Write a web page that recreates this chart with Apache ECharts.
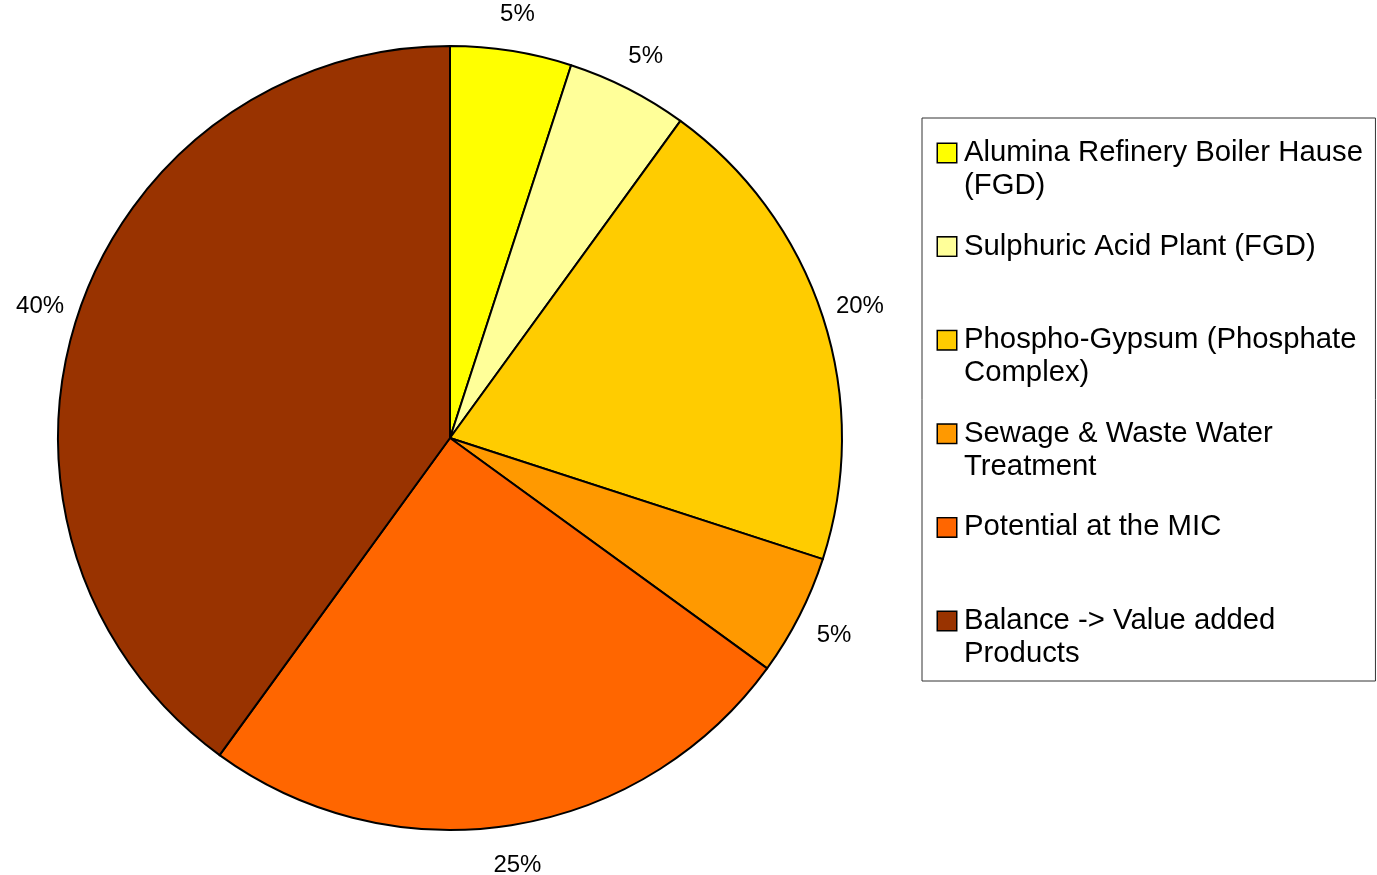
<!DOCTYPE html>
<html><head><meta charset="utf-8">
<script src="https://cdn.jsdelivr.net/npm/echarts/dist/echarts.min.js"></script>
<style>html,body{margin:0;padding:0;background:#fff}#c{width:1377px;height:875px}</style>
</head><body><div id="c"></div>
<script>
const categories = ['Alumina Refinery Boiler Hause (FGD)', 'Sulphuric Acid Plant (FGD)', 'Phospho-Gypsum (Phosphate Complex)', 'Sewage & Waste Water Treatment', 'Potential at the MIC', 'Balance -> Value added Products'];
const values = [5, 5, 20, 5, 25, 40];
const colors = ['#FFFF00', '#FFFF99', '#FFCC00', '#FF9900', '#FF6600', '#993300'];
const legendLines = [['Alumina Refinery Boiler Hause', '(FGD)'], ['Sulphuric Acid Plant (FGD)', ''], ['Phospho-Gypsum (Phosphate', 'Complex)'], ['Sewage & Waste Water', 'Treatment'], ['Potential at the MIC', ''], ['Balance -> Value added', 'Products']];

const FONT = '"Liberation Sans", Arial, sans-serif';
const rich = {
  t: { fontSize: 29.3, lineHeight: 33, color: '#000', fontFamily: FONT },
  g: { width: 8, lineHeight: 33 },
  s: { width: 26, lineHeight: 33 }
};
colors.forEach((c, i) => {
  rich['b' + i] = { width: 18, height: 18, lineHeight: 33, backgroundColor: c, borderColor: '#000', borderWidth: 1.5 };
});

const chart = echarts.init(document.getElementById('c'), null, { renderer: 'canvas' });
chart.setOption({
  animation: false,
  backgroundColor: '#fff',
  legend: {
    orient: 'vertical', left: 922, top: 118,
    icon: 'none', itemWidth: 0, itemHeight: 0, itemGap: 27.6,
    padding: [18.5, 12.5, 10.5, 11],
    borderColor: '#333', borderWidth: 1, backgroundColor: '#fff',
    selectedMode: false,
    data: categories,
    formatter: name => {
      const i = categories.indexOf(name);
      const a = legendLines[i][0], b = legendLines[i][1];
      return '{b' + i + '|}{g|}{t|' + a + '}\n{s|}' + (b ? '{t|' + b + '}' : '');
    },
    textStyle: { fontSize: 29.3, lineHeight: 33, color: '#000', fontFamily: FONT, rich: rich }
  },
  series: [
    {
      type: 'pie', center: [450, 438], radius: 392, startAngle: 90, clockwise: true,
      silent: true, emphasis: { disabled: true },
      data: categories.map((n, i) => ({ name: n, value: values[i], itemStyle: { color: colors[i] } })),
      itemStyle: { borderColor: '#000', borderWidth: 2 },
      label: { show: false }, labelLine: { show: false }
    },
    {
      type: 'pie', center: [450, 440], radius: [392, 464], startAngle: 90, clockwise: true,
      silent: true, emphasis: { disabled: true },
      data: categories.map((n, i) => ({ name: n, value: values[i] })),
      itemStyle: { color: 'rgba(0,0,0,0)', borderWidth: 0 },
      label: { show: true, position: 'inside', formatter: '{c}%', fontSize: 24, color: '#000', fontFamily: FONT },
      labelLine: { show: false }
    }
  ]
});
</script>
</body></html>
